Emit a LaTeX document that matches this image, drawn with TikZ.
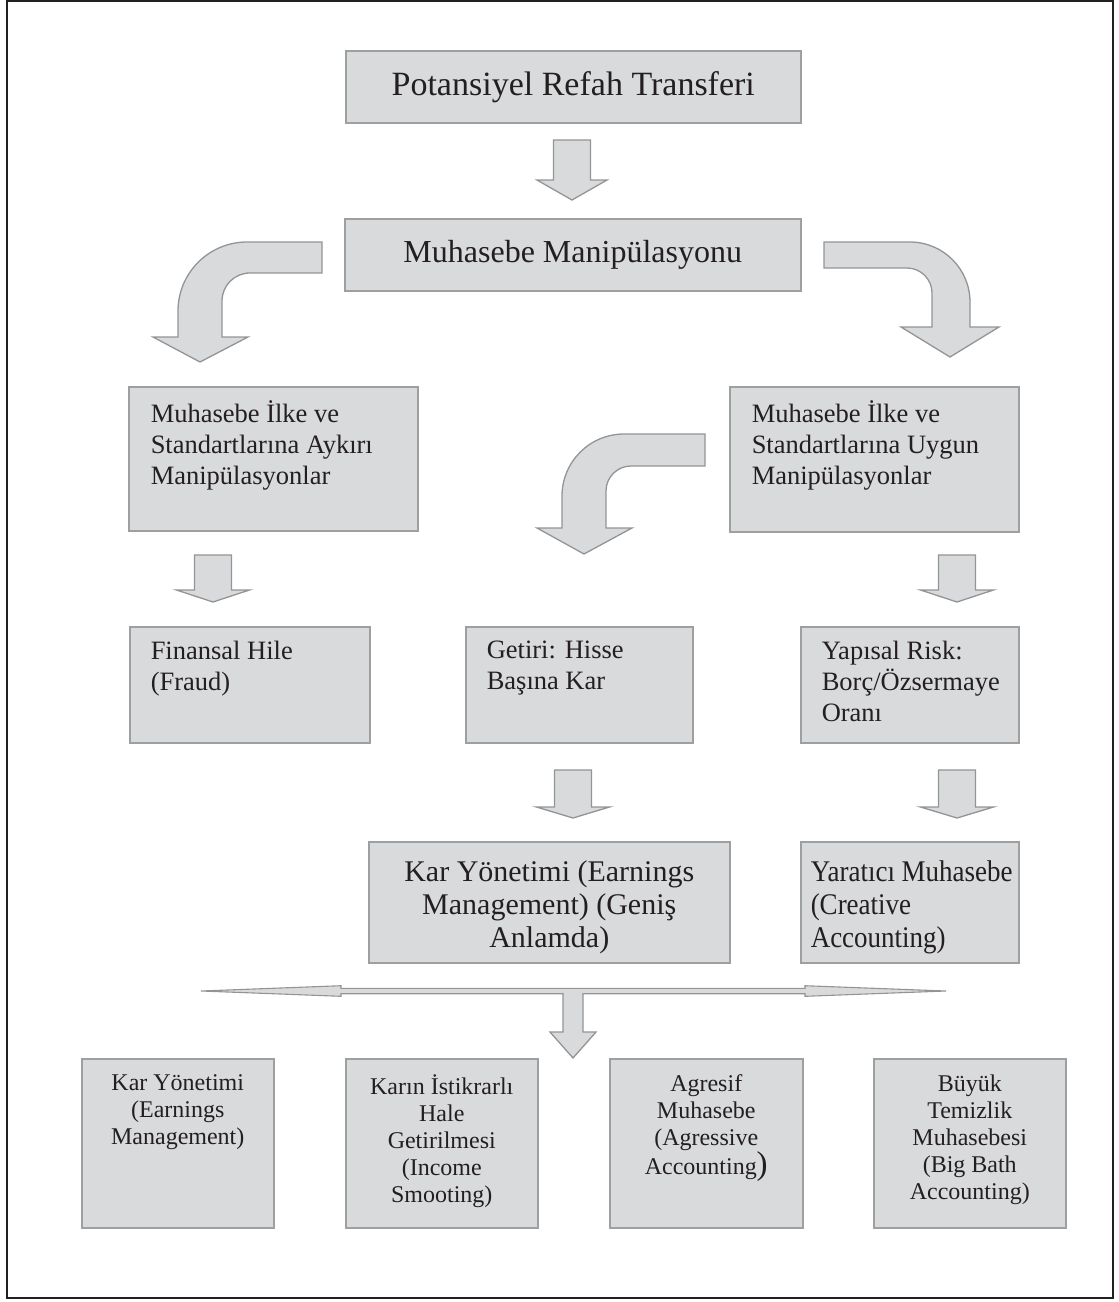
\documentclass[tikz,border=0pt]{standalone}
\usepackage{fontspec}
\setmainfont{Liberation Serif}
\newfontfamily\narrowserif[FakeStretch=0.9]{Liberation Serif}
\definecolor{ink}{HTML}{231F20}
\definecolor{boxfill}{HTML}{D9DADB}
\definecolor{boxline}{HTML}{9E9FA1}
\definecolor{arrowline}{HTML}{939496}

% font sizes used in the chart
\newcommand{\fbig}{\fontsize{34}{40}\selectfont}
\newcommand{\fhead}{\fontsize{32}{38}\selectfont}
\newcommand{\fwide}{\fontsize{30}{33}\selectfont}
\newcommand{\fmid}{\fontsize{26.5}{31}\selectfont}
\newcommand{\fsmall}{\fontsize{24}{27}\selectfont}

% text block of fixed size, set from the top: width, height, top gap, left pad, text
\newcommand{\topleft}[5]{\parbox[c][#2pt][t]{#1pt}{\vspace*{#3pt}\raggedright\leftskip=#4pt\relax\strut #5\par}}
\newcommand{\topcentre}[4]{\parbox[c][#2pt][t]{#1pt}{\vspace*{#3pt}\centering\strut #4\par}}

% straight block arrow pointing down: centre x, shaft half width, head half width, top, head base, tip
\newcommand{\blockdown}[6]{%
  \draw[blockarrow] (#1-#2,#4) -- (#1+#2,#4) -- (#1+#2,#5) -- (#1+#3,#5) -- (#1,#6)
    -- (#1-#3,#5) -- (#1-#2,#5) -- cycle;}

\tikzset{
  box/.style={draw=boxline, line width=1.5pt, fill=boxfill, text=ink,
    inner sep=0pt, anchor=north west},
  blockarrow/.style={draw=arrowline, line width=1.3pt, fill=boxfill, line join=miter},
}

\begin{document}
\begin{tikzpicture}[x=1pt,y=-1pt]
\useasboundingbox (0,0) rectangle (1119,1302);
\draw[ink, line width=2pt] (7,1) rectangle (1113,1298);

% top of the chart
\node[box, minimum width=455pt, minimum height=72pt, font=\fbig] (refah) at (345,50) {Potansiyel Refah Transferi};
\blockdown{572}{18.5}{35}{140}{180}{200}
\node[box, minimum width=456pt, minimum height=72pt, font=\fhead] (manip) at (344,218) {Muhasebe Manipülasyonu};

% bent arrow to the left branch
\draw[blockarrow] (322,242) -- (247,242) .. controls (208.9,242) and (178,272.9) .. (178,311)
  -- (178,337) -- (153,337) -- (200,362) -- (248,337) -- (222,337) -- (222,301)
  .. controls (222,285.5) and (234.5,273) .. (250,273) -- (322,273) -- cycle;

% bent arrow to the right branch
\draw[blockarrow] (824,242) -- (910,242) .. controls (943.1,242) and (970,268.9) .. (970,302)
  -- (970,327) -- (999,327) -- (950,357) -- (901,327) -- (932,327) -- (932,293)
  .. controls (932,279.2) and (920.8,268) .. (907,268) -- (824,268) -- cycle;

% second level
\node[box] (aykiri) at (128,386) {\topleft{289}{144}{14.3}{22}{\fmid Muhasebe İlke ve\\Standartlarına Aykırı\\Manipülasyonlar}};
\node[box] (uygun) at (729,386) {\topleft{289}{145}{14.3}{22}{\fmid Muhasebe İlke ve\\Standartlarına Uygun\\Manipülasyonlar}};

% bent arrow from the right branch towards the middle column
\draw[blockarrow] (705,434) -- (624,434) .. controls (589.8,434) and (562,461.8) .. (562,496)
  -- (562,528) -- (537,528) -- (584,554) -- (632,528) -- (606,528) -- (606,491)
  .. controls (606,477.2) and (617.2,466) .. (631,466) -- (705,466) -- cycle;

\blockdown{213}{18.5}{36.5}{555}{590}{602}
\blockdown{957}{18.5}{36.5}{555}{590}{602}

% third level
\node[box] (fraud) at (129,626) {\topleft{240}{116}{14.3}{21}{\fmid Finansal Hile\\(Fraud)}};
\node[box] (getiri) at (465,626) {\topleft{227}{116}{14.3}{21}{\fmid Getiri: Hisse\\Başına Kar}};
\node[box] (risk) at (800,626) {\topleft{218}{116}{14.3}{21}{\fmid Yapısal Risk:\\Borç/Özsermaye\\Oranı}};

\blockdown{573}{18.5}{36.5}{770}{807}{818}
\blockdown{957}{18.5}{36.5}{770}{807}{818}

% fourth level
\node[box] (karyon) at (368,841) {\topcentre{361}{121}{19}{\fwide Kar Yönetimi (Earnings\\Management) (Geniş\\Anlamda)}};
\node[box] (yaratici) at (800,841) {\topleft{218}{121}{19}{10}{\narrowserif\fwide \mbox{Yaratıcı Muhasebe}\\(Creative\\Accounting)}};

% double-headed bar and the arrow branching down from it
\draw[blockarrow, line width=1.1pt] (201,991) -- (341,985.7) -- (341,988.3) -- (805,988.3) -- (805,985.7)
  -- (946,991) -- (805,996.3) -- (805,993.7) -- (341,993.7) -- (341,996.3) -- cycle;
\fill[boxfill] (563.6,990) rectangle (582.4,1033);
\draw[blockarrow] (563,993.7) -- (563,1032) -- (550,1032) -- (573,1058) -- (596,1032) -- (583,1032) -- (583,993.7);

% bottom row
\node[box] (kar) at (81,1058) {\topcentre{192}{169}{16}{\fsmall Kar Yönetimi\\(Earnings\\Management)}};
\node[box] (smooth) at (345,1058) {\topcentre{192}{169}{16}{\fsmall Karın İstikrarlı\\Hale\\Getirilmesi\\(Income\\Smooting)}};
\node[box] (agresif) at (609,1058) {\topcentre{193}{169}{16}{\fsmall Agresif\\Muhasebe\\(Agressive\\Accounting{\fontsize{33}{27}\selectfont)}}};
\node[box] (bigbath) at (873,1058) {\topcentre{192}{169}{16}{\fsmall Büyük\\Temizlik\\Muhasebesi\\(Big Bath\\Accounting)}};
\end{tikzpicture}
\end{document}
